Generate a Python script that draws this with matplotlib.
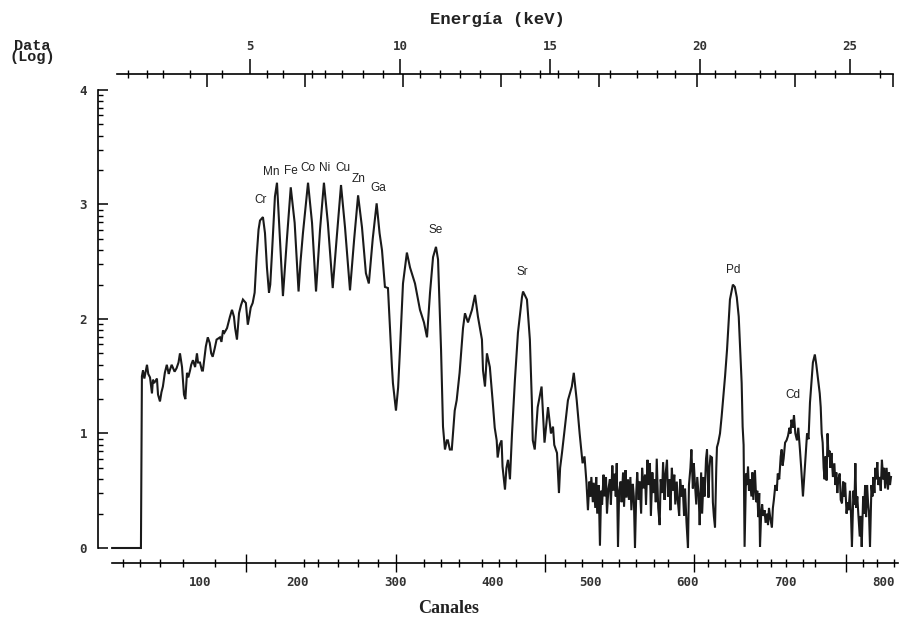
import numpy as np
import matplotlib
matplotlib.use("Agg")
import matplotlib.pyplot as plt
from matplotlib.ticker import FixedLocator

# spectrum: channel number vs log10(counts), in pieces
ch_rise = [10, 39.5, 40.5, 41.6, 43, 45.7, 47, 48.8, 50.8, 51.8,
           53, 55.9, 57, 59, 60.5, 62, 64, 66, 68, 69,
           71, 72, 74, 76, 78, 79.5, 81.6, 83.6, 85, 86.7,
           88, 89.8, 91, 92.8, 95, 96.9, 98, 100, 102, 103,
           106, 108, 110, 111.5, 113, 115, 117, 120.5, 122, 123.6,
           125, 127.7, 130.7, 132.8, 134.8, 136, 137.9, 140, 142, 144,
           147, 149, 150.5, 152, 154, 156]
val_rise = [0, 0, 1.50, 1.55, 1.48, 1.60, 1.52, 1.49, 1.35, 1.47,
            1.44, 1.48, 1.34, 1.28, 1.36, 1.41, 1.53, 1.60, 1.52, 1.55,
            1.60, 1.58, 1.54, 1.57, 1.62, 1.70, 1.58, 1.34, 1.30, 1.53,
            1.49, 1.55, 1.60, 1.64, 1.58, 1.70, 1.62, 1.62, 1.55, 1.55,
            1.76, 1.84, 1.79, 1.70, 1.67, 1.74, 1.82, 1.84, 1.80, 1.90,
            1.88, 1.92, 2.02, 2.08, 2.02, 1.92, 1.82, 2.05, 2.12, 2.17,
            2.14, 1.95, 2.02, 2.10, 2.14, 2.23]

ch_klines = [158, 160, 161.5, 164.5, 166.6, 168.6, 170.7, 172, 173.8, 176.8,
             178.9, 182, 185, 187, 189, 193, 197, 201, 203, 205.5,
             210.7, 214.8, 218.9, 223, 227, 231, 236, 240, 244.5, 248.6,
             253.7, 258, 262, 266, 270, 273, 277, 281, 284, 286.5,
             289.5, 292.6, 296.7, 297.7]
val_klines = [2.54, 2.78, 2.86, 2.89, 2.75, 2.45, 2.23, 2.30, 2.58, 3.07,
              3.19, 2.69, 2.20, 2.45, 2.69, 3.15, 2.84, 2.24, 2.50, 2.75,
              3.19, 2.84, 2.24, 2.78, 3.19, 2.84, 2.27, 2.70, 3.17, 2.80,
              2.25, 2.70, 3.08, 2.80, 2.40, 2.31, 2.70, 3.01, 2.75, 2.60,
              2.28, 2.27, 1.58, 1.44]

ch_mid = [300.8, 303, 304.9, 308, 312, 315.2, 320.3, 325.4, 329.5, 332.6,
          335.7, 338.8, 341.8, 343.9, 347, 349, 351, 353, 354, 356,
          358, 359, 361, 363, 366, 369.5, 371.5, 374.6, 378.7, 381.8,
          384.8, 388.9, 390, 392, 394, 397, 400, 402, 404, 405,
          407, 409, 410, 412.5, 414, 415.6, 417.6, 419.7, 422.7, 425.8,
          429.9, 431, 435, 438, 440, 441, 443, 446, 450, 453,
          456.6, 459.6, 461.7, 463, 465.8, 467.8, 469, 470.9, 474, 477,
          481, 483, 486, 489, 492, 494, 496, 497.5]
val_mid = [1.20, 1.40, 1.73, 2.31, 2.58, 2.45, 2.31, 2.08, 1.97, 1.84,
           2.23, 2.54, 2.63, 2.52, 1.73, 1.06, 0.86, 0.94, 0.94, 0.86,
           0.86, 0.97, 1.20, 1.29, 1.53, 1.92, 2.05, 1.97, 2.08, 2.21,
           2.02, 1.82, 1.55, 1.41, 1.70, 1.58, 1.27, 1.05, 0.94, 0.79,
           0.90, 0.94, 0.71, 0.51, 0.70, 0.77, 0.60, 1.00, 1.47, 1.88,
           2.19, 2.24, 2.17, 1.82, 1.29, 0.94, 0.86, 1.23, 1.41, 0.92,
           1.23, 1.00, 1.06, 0.90, 0.83, 0.48, 0.70, 0.83, 1.06, 1.29,
           1.41, 1.53, 1.29, 1.00, 0.74, 0.80, 0.57, 0.33]

ch_noise1 = [499, 500, 501, 502.5, 503.5, 505, 506, 507, 508.5, 509.8,
             511, 512, 513.5, 514.5, 516, 517, 518.5, 520, 521, 522.5,
             523.5, 525, 526, 527, 528.3, 529.5, 531, 532, 533.5, 534.5,
             536, 537, 538.5, 539.5, 541, 542, 543.5, 544.5, 545.7, 547,
             548, 549.5, 550.5, 552, 553, 554.5, 556, 557, 558.5, 559.5,
             561, 562, 563.5, 564.5, 566, 567, 568, 569.5, 571, 572,
             573.5, 574.5, 576, 577, 578.5, 579.5, 581, 582, 583.5, 584.5,
             586, 587, 588.5, 589.5, 591, 592, 593.5, 594.5, 596, 597,
             598.5, 600, 601, 602.5, 603.5, 605, 606, 607, 608.5, 609.5,
             611, 612, 613.5, 614.5, 616, 617, 618.5, 619.5, 621, 622,
             623, 624.6, 625.5, 626.5, 627.7, 629, 629.7]
val_noise1 = [0.58, 0.45, 0.62, 0.40, 0.57, 0.35, 0.62, 0.30, 0.55, 0.02,
              0.50, 0.38, 0.64, 0.45, 0.62, 0.30, 0.52, 0.60, 0.38, 0.72,
              0.50, 0.65, 0.45, 0.74, 0.01, 0.50, 0.58, 0.40, 0.66, 0.36,
              0.68, 0.44, 0.60, 0.42, 0.62, 0.33, 0.56, 0.45, 0.00, 0.48,
              0.66, 0.42, 0.58, 0.30, 0.70, 0.52, 0.64, 0.38, 0.77, 0.55,
              0.74, 0.28, 0.66, 0.48, 0.60, 0.40, 0.78, 0.35, 0.20, 0.60,
              0.48, 0.75, 0.42, 0.64, 0.77, 0.45, 0.60, 0.33, 0.70, 0.50,
              0.64, 0.38, 0.58, 0.42, 0.28, 0.60, 0.45, 0.55, 0.28, 0.52,
              0.22, 0.00, 0.55, 0.70, 0.86, 0.52, 0.74, 0.58, 0.38, 0.62,
              0.45, 0.20, 0.66, 0.30, 0.62, 0.45, 0.78, 0.86, 0.44, 0.70,
              0.80, 0.79, 0.40, 0.28, 0.18, 0.70, 0.88]

ch_pd = [631, 632.8, 634.5, 635.9, 638, 640, 643, 646, 648, 650,
         652, 655, 656, 657]
val_pd = [0.92, 1.00, 1.15, 1.29, 1.50, 1.73, 2.17, 2.30, 2.28, 2.19,
          2.02, 1.44, 1.06, 0.90]

ch_cd = [658, 659.5, 660.5, 661.5, 662.5, 663.5, 665, 666, 667, 668.6,
         670, 671, 672, 673, 673.8, 675, 676, 677, 678.5, 679.5,
         681, 682, 683, 684.5, 686, 687, 688, 689.5, 691, 692,
         693.5, 695, 696, 697, 698, 699.5, 701, 702.5, 704, 705,
         706, 707.5, 708.6, 710, 711.7, 713, 714.7, 716, 717.8, 719,
         720.5, 722, 723.5, 725, 726.5, 728, 730, 731.5, 733, 735,
         736, 737, 738]
val_cd = [0.01, 0.65, 0.55, 0.71, 0.50, 0.60, 0.45, 0.66, 0.42, 0.68,
          0.40, 0.50, 0.27, 0.48, 0.01, 0.30, 0.38, 0.28, 0.33, 0.22,
          0.30, 0.20, 0.35, 0.25, 0.18, 0.35, 0.42, 0.55, 0.50, 0.65,
          0.60, 0.80, 0.86, 0.72, 0.78, 0.92, 0.94, 0.98, 1.05, 1.00,
          1.12, 1.05, 1.16, 1.00, 0.94, 1.05, 0.86, 0.70, 0.45, 0.60,
          0.80, 1.00, 0.95, 1.27, 1.45, 1.62, 1.69, 1.60, 1.49, 1.35,
          1.23, 1.00, 0.92]

ch_tail = [739, 740, 741, 742, 743, 744, 745, 746, 747, 748.5,
           750, 751, 752, 753, 754, 755.5, 756.5, 757.8, 759, 760,
           761, 762.5, 763.5, 764.5, 766, 767, 768, 769.5, 770.5, 771.5,
           772.5, 773.5, 774.5, 776, 777, 778, 779.5, 780.5, 781.5, 782.5,
           783.5, 784.5, 785.5, 786.5, 788, 789, 790, 791, 792, 793,
           794, 795, 796.5, 797.5, 798.7, 800, 801, 802, 803.5, 804.9,
           806, 807, 808]
val_tail = [0.70, 0.60, 0.80, 0.59, 1.00, 0.80, 0.85, 0.70, 0.83, 0.62,
            0.74, 0.55, 0.66, 0.48, 0.60, 0.65, 0.42, 0.39, 0.58, 0.45,
            0.57, 0.30, 0.40, 0.33, 0.50, 0.30, 0.01, 0.50, 0.38, 0.74,
            0.35, 0.45, 0.30, 0.10, 0.28, 0.01, 0.45, 0.30, 0.55, 0.27,
            0.55, 0.40, 0.30, 0.01, 0.55, 0.45, 0.62, 0.48, 0.70, 0.60,
            0.75, 0.55, 0.62, 0.50, 0.77, 0.60, 0.70, 0.52, 0.70, 0.51,
            0.66, 0.55, 0.62]

peak_names = ["Cr", "Mn", "Fe", "Co", "Ni", "Cu", "Zn", "Ga", "Se", "Sr", "Pd", "Cd"]
label_ch = [161.7, 172.7, 193.2, 210.6, 228, 246.5, 262, 282.4, 341.8, 430, 646, 707.5]
label_y = [3.04, 3.28, 3.29, 3.32, 3.32, 3.32, 3.22, 3.14, 2.78, 2.41, 2.43, 1.34]

y_ticks = [0, 1, 2, 3, 4]
ch_ticks = [100, 200, 300, 400, 500, 600, 700, 800]
kev_ticks = [5, 10, 15, 20, 25]

channels = ch_rise + ch_klines + ch_mid + ch_noise1 + ch_pd + ch_cd + ch_tail
log_counts = val_rise + val_klines + val_mid + val_noise1 + val_pd + val_cd + val_tail


def ch_to_kev(c):
    return (2.4 + 0.976 * np.asarray(c, dtype=float)) / 30.0


def kev_to_ch(e):
    return (30.0 * np.asarray(e, dtype=float) - 2.4) / 0.976


# old plotter style: ruler-like axes, detached from the frame
bot_minor = [21, 38.5, 59, 82.6, 100, 115.4, 176.8, 206.6, 220.9, 241.4, 261.9,
             282.4, 329.5, 346.9, 365.2, 389, 406.6, 424, 474, 491.4, 511.9,
             529.3, 546.7, 565.2, 579.5, 620.5, 637.9, 653.3, 670.7, 685, 700.4,
             717.8, 730, 779.3, 793.6, 811]
bot_tall = [147, 300.8, 453.5, 606, 761.8]
top_minor = [0.93, 1.57, 2.1, 3.0, 4.07, 5.57, 6.1, 7.07, 7.5, 8.07, 8.77, 9.43,
             10.67, 11.33, 12.0, 12.67, 14.0, 14.67, 15.27, 15.93, 17.0, 17.9,
             18.57, 19.17, 20.5, 21.17, 22.0, 22.5, 23.83, 24.5, 26.0]
top_down = [107 + 100.5 * k for k in range(8)]

tick_font = {"family": "DejaVu Sans Mono", "weight": "bold", "size": 9}
ink = "#1a1a1a"

fig = plt.figure(figsize=(8.99, 6.24), dpi=100)
ax = fig.add_axes([0.109, 0.1218, 0.8899, 0.734])
ax.plot(channels, log_counts, color=ink, lw=1.5, clip_on=False, solid_joinstyle="miter")
ax.set_xlim(-4.5, 815.2)
ax.set_ylim(0, 4)

for s in ("top", "right"):
    ax.spines[s].set_visible(False)
ax.spines["left"].set_bounds(0, 4)
ax.spines["left"].set_linewidth(1.2)
ax.spines["bottom"].set_position(("axes", -0.033))
ax.spines["bottom"].set_bounds(10, 815)
ax.spines["bottom"].set_linewidth(1.2)

# y axis: log decades with minor ticks
ax.set_yticks(y_ticks)
ax.yaxis.set_minor_locator(FixedLocator(
    [d + np.log10(k) for d in range(4) for k in range(2, 10)]))
ax.tick_params(axis="y", which="major", direction="in", length=7, width=1.1, pad=8)
ax.tick_params(axis="y", which="minor", direction="in", length=3.5, width=1)
for lab in ax.get_yticklabels():
    lab.set(**tick_font, color="#333")

# bottom axis: channels
ax.set_xticks(ch_ticks)
ax.xaxis.set_minor_locator(FixedLocator(bot_minor))
ax.tick_params(axis="x", which="major", length=0, pad=9)
ax.tick_params(axis="x", which="minor", direction="inout", length=6, width=1)
for lab in ax.get_xticklabels():
    lab.set(**tick_font, color="#333")

tall = ax.secondary_xaxis(-0.033)
tall.set_xticks(bot_tall)
tall.tick_params(direction="inout", length=13, width=1, labelbottom=False)
tall.spines["bottom"].set_visible(False)

# top axis: energy
top = ax.secondary_xaxis(1.035, functions=(ch_to_kev, kev_to_ch))
top.set_xticks(kev_ticks)
top.xaxis.set_minor_locator(FixedLocator(top_minor))
top.tick_params(which="major", direction="out", length=11, width=1.1, pad=4)
top.tick_params(which="minor", direction="inout", length=6, width=1)
top.spines["top"].set_bounds(0.57, 26.43)
top.spines["top"].set_linewidth(1.2)
for lab in top.get_xticklabels():
    lab.set(**tick_font, color="#333")

down = ax.secondary_xaxis(1.035)
down.set_xticks(top_down)
down.tick_params(direction="in", length=9, width=1.1, labeltop=False)
down.spines["top"].set_visible(False)

for name, c, v in zip(peak_names, label_ch, label_y):
    ax.text(c, v, name, ha="center", va="center", fontsize=8.5,
            family="Liberation Sans", color="#222")

fig.text(0.553, 0.968, "Energía (keV)", ha="center", va="center",
         family="Liberation Mono", weight="bold", fontsize=12.5, color="#222")
fig.text(0.4994, 0.0256, "Canales", ha="center", va="center",
         family="Liberation Serif", weight="bold", fontsize=13, color="#222")
fig.text(0.036, 0.917, "Data\n(Log)", ha="center", va="center", linespacing=0.75,
         family="Liberation Mono", weight="bold", fontsize=11, color="#222")

fig.savefig("out.png", dpi=100)
